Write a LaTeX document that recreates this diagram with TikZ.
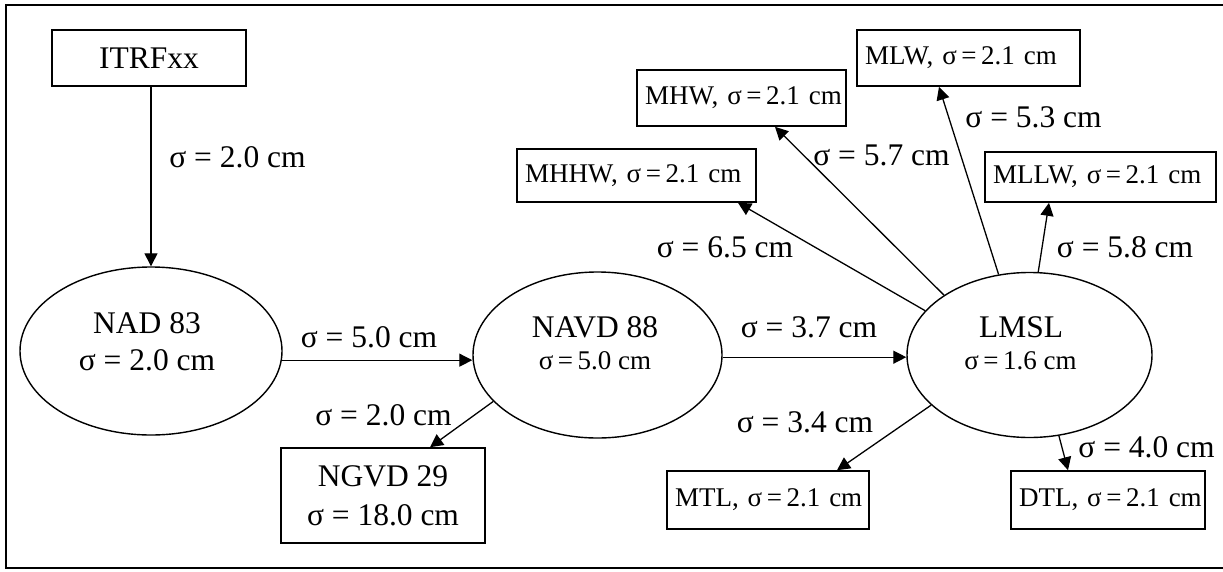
\documentclass[tikz,border=0pt]{standalone}
\usepackage{fontspec}
\setmainfont{Liberation Serif}
\usetikzlibrary{arrows.meta,shapes.geometric}
\begin{document}
\begin{tikzpicture}[x=1pt,y=-1pt,
  big/.style={font=\fontsize{31.5}{39}\selectfont},
  small/.style={font=\fontsize{27}{31}\selectfont},
  bigbox/.style={draw,line width=1.6pt,rectangle,inner sep=0pt,align=center,big},
  smallbox/.style={draw,line width=1.6pt,rectangle,inner xsep=8pt,inner ysep=0pt,align=left,small},
  oval/.style={draw,line width=1.4pt,ellipse,inner sep=0pt},
  conn/.style={line width=1.3pt,-{Triangle[length=13pt,width=13pt]}},
  lbl/.style={big,inner sep=0pt}]
\useasboundingbox (0,0) rectangle (1223,571);
\draw[line width=2.5pt] (1223,5) -- (6,5) -- (6,568) -- (1223,568);

% main nodes
\node[bigbox,minimum width=194pt,minimum height=56pt] (itrf) at (149,58) {ITRFxx};
\node[oval,minimum width=262pt,minimum height=168pt] (nad) at (151,351) {};
\node[big,anchor=base] (nadname) at (147,333) {NAD 83};
\node[big,anchor=base] (nadsig) at (147,370) {σ = 2.0 cm};

\node[oval,minimum width=249pt,minimum height=166pt] (navd) at (597.5,355) {};
\node[big,anchor=base] (navdname) at (595,337) {NAVD 88};
\node[small,anchor=base] (navdsig) at (595,369) {σ\,=\,5.0 cm};

\node[oval,minimum width=245pt,minimum height=165pt] (lmsl) at (1029.5,355) {};
\node[big,anchor=base] (lmslname) at (1021,337) {LMSL};
\node[small,anchor=base] (lmslsig) at (1020.5,369) {σ\,=\,1.6 cm};

\node[bigbox,minimum width=204pt,minimum height=95pt] (ngvd) at (383,495.5) {NGVD 29\\σ = 18.0 cm};

% small boxes
\node[smallbox,text width=186pt,minimum height=58pt] (mtl) at (768,500) {\mbox{MTL, σ\,=\,2.1 cm}};
\node[smallbox,text width=178pt,minimum height=58pt] (dtl) at (1108,500) {\mbox{DTL, σ\,=\,2.1 cm}};
\node[smallbox,text width=223pt,minimum height=53pt] (mhhw) at (636.5,175.5) {\mbox{MHHW, σ\,=\,2.1 cm}};
\node[smallbox,text width=193pt,minimum height=56pt] (mhw) at (741.5,98) {\mbox{MHW, σ\,=\,2.1 cm}};
\node[smallbox,text width=207pt,minimum height=56pt] (mlw) at (968.5,58) {\mbox{MLW, σ\,=\,2.1 cm}};
\node[smallbox,text width=215pt,minimum height=50pt] (mllw) at (1100.5,177) {\mbox{MLLW, σ\,=\,2.1 cm}};

% connectors
\draw[conn] (nad.north |- itrf.south) -- (nad.north);
\draw[conn] (nad.-4) -- (nad.-4 -| navd.west);
\draw[conn] (navd.204.6) -- ([xshift=47pt]ngvd.north);
\draw[conn] (navd.-1.5) -- (navd.-1.5 -| lmsl.west);
\draw[conn] (lmsl.157.6) -- ([xshift=101.5pt]mhhw.south);
\draw[conn] (lmsl.145.4) -- ([xshift=33.5pt]mhw.south);
\draw[conn] (lmsl.111.5) -- ([xshift=-29.5pt]mlw.south);
\draw[conn] (lmsl.84.8) -- ([xshift=-51.5pt]mllw.south);
\draw[conn] (lmsl.207.8) -- ([xshift=69pt]mtl.north);
\draw[conn] (lmsl.290.2) -- ([xshift=-40pt]dtl.north);

% edge labels
\node[lbl] (l1) at (237.5,157) {σ = 2.0 cm};
\node[lbl] (l2) at (369,337) {σ = 5.0 cm};
\node[lbl] (l3) at (383.5,415) {σ = 2.0 cm};
\node[lbl] (l4) at (809,327) {σ = 3.7 cm};
\node[lbl] (l5) at (805,422) {σ = 3.4 cm};
\node[lbl] (l6) at (1146.5,447) {σ = 4.0 cm};
\node[lbl] (l7) at (725,247) {σ = 6.5 cm};
\node[lbl] (l8) at (881.5,155) {σ = 5.7 cm};
\node[lbl] (l9) at (1033.5,117) {σ = 5.3 cm};
\node[lbl] (l10) at (1125,247) {σ = 5.8 cm};
\end{tikzpicture}
\end{document}
